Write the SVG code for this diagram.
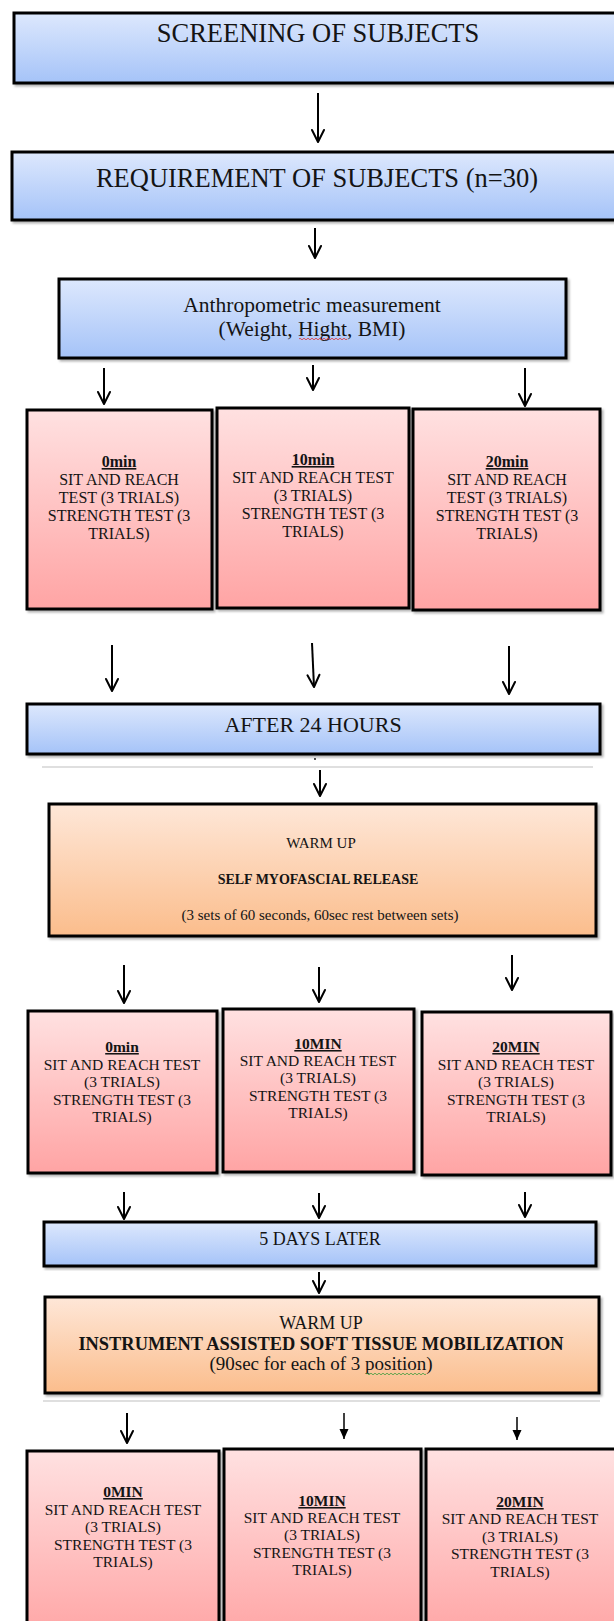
<svg xmlns="http://www.w3.org/2000/svg" width="614" height="1621" viewBox="0 0 614 1621">
<style>
text{font-family:"Liberation Serif","Times New Roman",serif;fill:#141414;text-anchor:middle}
.box{stroke:#000;stroke-width:3;filter:url(#sh)}
.blue{fill:url(#gBlue)}
.pink{fill:url(#gPink)}
.orange{fill:url(#gOrange)}
.big{font-size:26.5px}
.mid{font-size:21.5px}
.t16{font-size:16px}
.t155{font-size:15.5px}
.hd{font-weight:bold;text-decoration:underline}
.arr{stroke:#000;stroke-width:2;fill:none;marker-end:url(#vhead)}
.arrf{stroke:#000;stroke-width:1.5;fill:none;marker-end:url(#fhead)}
.rule{stroke:#d4d4d4;stroke-width:1.5}
</style>
<defs>
<linearGradient id="gBlue" x1="0" y1="0" x2="0" y2="1"><stop offset="0" stop-color="#dde8fd"/><stop offset="1" stop-color="#a5c3f8"/></linearGradient>
<linearGradient id="gPink" x1="0" y1="0" x2="0" y2="1"><stop offset="0" stop-color="#ffe1e1"/><stop offset="1" stop-color="#ffa4a4"/></linearGradient>
<linearGradient id="gOrange" x1="0" y1="0" x2="0" y2="1"><stop offset="0" stop-color="#fee7d8"/><stop offset="1" stop-color="#fbbd8c"/></linearGradient>
<filter id="sh" x="-5%" y="-5%" width="110%" height="115%"><feDropShadow dx="2" dy="2" stdDeviation="1.2" flood-color="#000" flood-opacity="0.3"/></filter>
<marker id="vhead" viewBox="-14 -8 16 16" refX="0" refY="0" markerWidth="16" markerHeight="16" markerUnits="userSpaceOnUse" orient="auto"><path d="M-12,-6 L0,0 L-12,6" fill="none" stroke="#000" stroke-width="2" stroke-linecap="round" stroke-linejoin="round"/></marker>
<marker id="fhead" viewBox="-12 -6 13 12" refX="0" refY="0" markerWidth="13" markerHeight="12" markerUnits="userSpaceOnUse" orient="auto"><path d="M-10,-4.5 L0,0 L-10,4.5 Z" fill="#000"/></marker>
</defs>

<g id="screening">
<rect class="box blue" x="14" y="13" width="620" height="70"/>
<text class="big" x="318" y="42">SCREENING OF SUBJECTS</text>
</g>

<g id="requirement">
<rect class="box blue" x="12" y="152" width="622" height="68"/>
<text class="big" x="317" y="187">REQUIREMENT OF SUBJECTS (n=30)</text>
</g>

<g id="anthropometric">
<rect class="box blue" x="59" y="279" width="507" height="79"/>
<text class="mid" x="312" y="312">Anthropometric measurement</text>
<text class="mid" x="312" y="336">(Weight, Hight, BMI)</text>
<path d="M299,339 q1,-1.6 2,0 t2,0 t2,0 t2,0 t2,0 t2,0 t2,0 t2,0 t2,0 t2,0 t2,0 t2,0 t2,0 t2,0 t2,0 t2,0 t2,0 t2,0 t2,0 t2,0 t2,0 t2,0 t2,0 t2,0" fill="none" stroke="#e03030" stroke-width="0.8"/>
</g>

<g id="row1-0min">
<rect class="box pink" x="27" y="410" width="185" height="199"/>
<text class="t16"><tspan class="hd" x="119" y="467">0min</tspan><tspan x="119" y="485">SIT AND REACH</tspan><tspan x="119" y="503">TEST (3 TRIALS)</tspan><tspan x="119" y="521">STRENGTH TEST (3</tspan><tspan x="119" y="539">TRIALS)</tspan></text>
</g>
<g id="row1-10min">
<rect class="box pink" x="217" y="408" width="192" height="200"/>
<text class="t16"><tspan class="hd" x="313" y="465">10min</tspan><tspan x="313" y="483">SIT AND REACH TEST</tspan><tspan x="313" y="501">(3 TRIALS)</tspan><tspan x="313" y="519">STRENGTH TEST (3</tspan><tspan x="313" y="537">TRIALS)</tspan></text>
</g>
<g id="row1-20min">
<rect class="box pink" x="413" y="409" width="187" height="201"/>
<text class="t16"><tspan class="hd" x="507" y="467">20min</tspan><tspan x="507" y="485">SIT AND REACH</tspan><tspan x="507" y="503">TEST (3 TRIALS)</tspan><tspan x="507" y="521">STRENGTH TEST (3</tspan><tspan x="507" y="539">TRIALS)</tspan></text>
</g>

<g id="after24">
<rect class="box blue" x="27" y="704" width="573" height="50"/>
<text style="font-size:22px" x="313" y="732">AFTER 24 HOURS</text>
</g>
<g id="separator1">
<line class="rule" x1="42" y1="767" x2="593" y2="767"/>
<circle cx="315" cy="759" r="0.9" fill="#000"/>
</g>

<g id="smr">
<rect class="box orange" x="49" y="804" width="547" height="132"/>
<text style="font-size:15px" x="321" y="848">WARM UP</text>
<text style="font-size:14px;font-weight:bold" x="318" y="884">SELF MYOFASCIAL RELEASE</text>
<text style="font-size:15px" x="320" y="920">(3 sets of 60 seconds, 60sec rest between sets)</text>
</g>

<g id="row2-0min">
<rect class="box pink" x="28" y="1011" width="189" height="162"/>
<text class="t155"><tspan class="hd" x="122" y="1052">0min</tspan><tspan x="122" y="1070">SIT AND REACH TEST</tspan><tspan x="122" y="1087">(3 TRIALS)</tspan><tspan x="122" y="1105">STRENGTH TEST (3</tspan><tspan x="122" y="1122">TRIALS)</tspan></text>
</g>
<g id="row2-10min">
<rect class="box pink" x="223" y="1009" width="191" height="163"/>
<text class="t155"><tspan class="hd" x="318" y="1049">10MIN</tspan><tspan x="318" y="1066">SIT AND REACH TEST</tspan><tspan x="318" y="1083">(3 TRIALS)</tspan><tspan x="318" y="1101">STRENGTH TEST (3</tspan><tspan x="318" y="1118">TRIALS)</tspan></text>
</g>
<g id="row2-20min">
<rect class="box pink" x="422" y="1012" width="189" height="163"/>
<text class="t155"><tspan class="hd" x="516" y="1052">20MIN</tspan><tspan x="516" y="1070">SIT AND REACH TEST</tspan><tspan x="516" y="1087">(3 TRIALS)</tspan><tspan x="516" y="1105">STRENGTH TEST (3</tspan><tspan x="516" y="1122">TRIALS)</tspan></text>
</g>

<g id="days5">
<rect class="box blue" x="44" y="1222" width="552" height="44"/>
<text style="font-size:18px" x="320" y="1245">5 DAYS LATER</text>
</g>

<g id="iastm">
<rect class="box orange" x="45" y="1297" width="554" height="96"/>
<text style="font-size:18px" x="321" y="1329">WARM UP</text>
<text style="font-size:18.4px;font-weight:bold" x="321" y="1350">INSTRUMENT ASSISTED SOFT TISSUE MOBILIZATION</text>
<text style="font-size:19px" x="321" y="1370">(90sec for each of 3 position)</text>
<path d="M366,1374 q1,-1.6 2,0 t2,0 t2,0 t2,0 t2,0 t2,0 t2,0 t2,0 t2,0 t2,0 t2,0 t2,0 t2,0 t2,0 t2,0 t2,0 t2,0 t2,0 t2,0 t2,0 t2,0 t2,0 t2,0 t2,0 t2,0 t2,0 t2,0 t2,0 t2,0 t2,0" fill="none" stroke="#3a9a3a" stroke-width="0.8"/>
</g>
<g id="separator2">
<line class="rule" x1="43" y1="1401" x2="600" y2="1401"/>
</g>

<g id="row3-0min">
<rect class="box pink" x="27" y="1451" width="192" height="190"/>
<text class="t155"><tspan class="hd" x="123" y="1497">0MIN</tspan><tspan x="123" y="1515">SIT AND REACH TEST</tspan><tspan x="123" y="1532">(3 TRIALS)</tspan><tspan x="123" y="1550">STRENGTH TEST (3</tspan><tspan x="123" y="1567">TRIALS)</tspan></text>
</g>
<g id="row3-10min">
<rect class="box pink" x="224" y="1449" width="197" height="192"/>
<text class="t155"><tspan class="hd" x="322" y="1506">10MIN</tspan><tspan x="322" y="1523">SIT AND REACH TEST</tspan><tspan x="322" y="1540">(3 TRIALS)</tspan><tspan x="322" y="1558">STRENGTH TEST (3</tspan><tspan x="322" y="1575">TRIALS)</tspan></text>
</g>
<g id="row3-20min">
<rect class="box pink" x="426" y="1449" width="194" height="192"/>
<text class="t155"><tspan class="hd" x="520" y="1507">20MIN</tspan><tspan x="520" y="1524">SIT AND REACH TEST</tspan><tspan x="520" y="1542">(3 TRIALS)</tspan><tspan x="520" y="1559">STRENGTH TEST (3</tspan><tspan x="520" y="1577">TRIALS)</tspan></text>
</g>

<g id="connectors">
<line class="arr" x1="318" y1="93" x2="318" y2="142"/>
<line class="arr" x1="315" y1="228" x2="315" y2="258"/>
<line class="arr" x1="104" y1="368" x2="104" y2="404"/>
<line class="arr" x1="313" y1="365" x2="313" y2="390"/>
<line class="arr" x1="525" y1="368" x2="525" y2="406"/>
<line class="arr" x1="112" y1="645" x2="112" y2="691"/>
<line class="arr" x1="312" y1="643" x2="314" y2="687"/>
<line class="arr" x1="509" y1="646" x2="509" y2="694"/>
<line class="arr" x1="320" y1="770" x2="320" y2="796"/>
<line class="arr" x1="124" y1="965" x2="124" y2="1003"/>
<line class="arr" x1="319" y1="967" x2="319" y2="1002"/>
<line class="arr" x1="512" y1="955" x2="512" y2="990"/>
<line class="arr" x1="124" y1="1192" x2="124" y2="1219"/>
<line class="arr" x1="319" y1="1193" x2="319" y2="1218"/>
<line class="arr" x1="525" y1="1192" x2="525" y2="1217"/>
<line class="arr" x1="319" y1="1272" x2="319" y2="1293"/>
<line class="arr" x1="127" y1="1413" x2="127" y2="1443"/>
<line class="arrf" x1="344" y1="1413" x2="344" y2="1439"/>
<line class="arrf" x1="517" y1="1417" x2="517" y2="1440"/>
</g>
</svg>
